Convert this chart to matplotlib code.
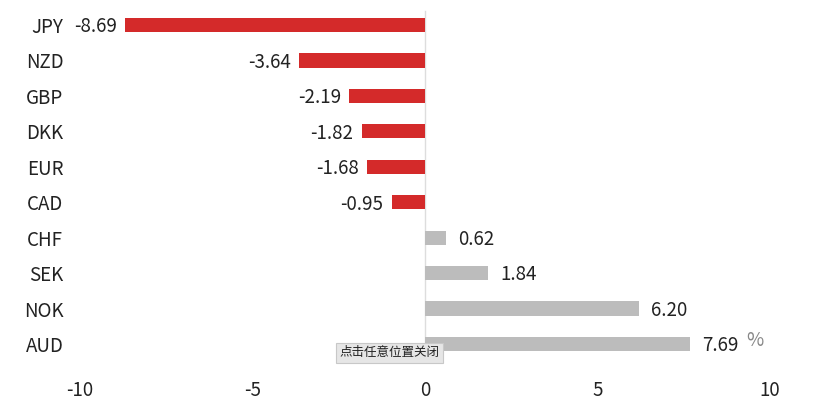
import matplotlib.pyplot as plt

plt.rcParams['font.family'] = ['Noto Sans CJK SC', 'DejaVu Sans']

currencies = ['JPY', 'NZD', 'GBP', 'DKK', 'EUR', 'CAD', 'CHF', 'SEK', 'NOK', 'AUD']
changes = [-8.69, -3.64, -2.19, -1.82, -1.68, -0.95, 0.62, 1.84, 6.20, 7.69]
xticks = [-10, -5, 0, 5, 10]

fig = plt.figure(figsize=(8.22, 4.08), dpi=100)
ax = fig.add_axes([0.0973, 0.1135, 0.8394, 0.8685])

colors = ['#d42a2a' if v < 0 else '#bcbcbc' for v in changes]
ypos = list(range(len(currencies)))
ax.barh(ypos, changes, height=0.4, color=colors, zorder=2)

for y, v in zip(ypos, changes):
    if v < 0:
        ax.text(v - 0.25, y + 0.05, f'{v:.2f}', ha='right', va='center', fontsize=13.5, color='#222222')
    else:
        ax.text(v + 0.35, y + 0.05, f'{v:.2f}', ha='left', va='center', fontsize=13.5, color='#222222')

ax.axvline(0, ymin=0.02, ymax=0.99, color='#dddddd', lw=1, zorder=1)

ax.set_xlim(-10, 10)
ax.set_ylim(len(currencies) - 0.5, -0.5)
ax.set_yticks(ypos)
ax.set_yticklabels(currencies, fontsize=13.5, color='#222222')
ax.set_xticks(xticks)
ax.set_xticklabels([str(t) for t in xticks], fontsize=13.5, color='#222222')
ax.tick_params(axis='y', length=0, pad=12)
ax.tick_params(axis='x', length=0, pad=13)
for s in ax.spines.values():
    s.set_visible(False)

ax.text(9.3, 8.9, '%', fontsize=13.5, color='#888888', ha='left', va='center')

fig.text(0.413, 0.135, '点击任意位置关闭', fontsize=9, color='#222222', ha='left', va='center',
         bbox=dict(boxstyle='square,pad=0.25', facecolor='#e6e6e6', edgecolor='#c8c8c8', lw=0.8),
         zorder=10)

fig.savefig('out.png', dpi=100)
